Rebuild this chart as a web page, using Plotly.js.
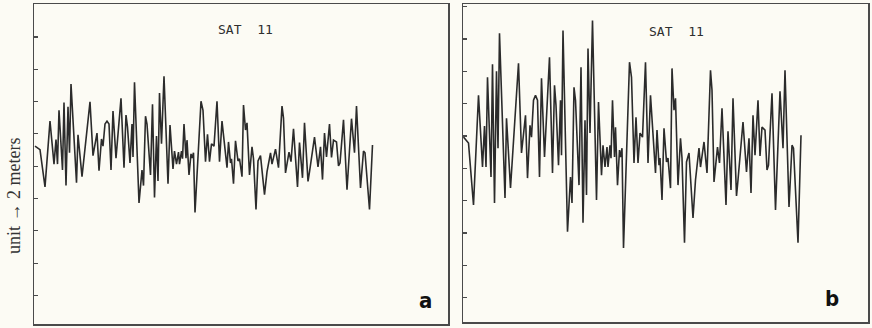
<!DOCTYPE html>
<html>
<head>
<meta charset="utf-8">
<script src="https://cdn.plot.ly/plotly-3.0.1.min.js"></script>
<style>
  html, body { margin: 0; padding: 0; background: #fcfbf4; }
  #chart { width: 872px; height: 328px; }
</style>
</head>
<body>
<div id="chart"></div>
<script>
// SAT 11 residual series: epoch (sample time) and residual in centimetres
const epoch = [0, 5, 10, 15, 19, 21, 22.5, 24, 27.5, 29, 31, 33, 34.5, 36, 41.5, 43, 47, 51, 55, 58,
  62, 64, 66.5, 68, 70, 72, 74, 76, 78, 81, 83, 86, 89, 91, 92.5, 95, 97, 98, 99.5, 104,
  107, 108.5, 110.5, 112, 115.5, 117.5, 119.5, 121.5, 123, 124.5, 126.5, 129, 133, 135, 138, 139.5, 141.5, 143.5, 144.5, 146.5,
  147.5, 149, 151, 152, 154, 156, 157, 158.5, 160, 166, 168, 170.5, 172.5, 174.5, 176.5, 179, 182, 184.5, 187, 192,
  193.5, 195.5, 196.5, 198.5, 200.5, 203, 204.5, 207, 208.5, 210.5, 212, 214.5, 217, 218.5, 221, 223, 225.5, 229.5, 232, 235.5,
  237, 240.5, 243.5, 247, 248.5, 250.5, 254, 256, 258.5, 262.5, 264.5, 267.5, 269.5, 273, 274.5, 279.5, 283, 285.5, 287.5, 289.5,
  291.5, 294.5, 296.5, 298.5, 301.5, 303.5, 305, 308.5, 312, 316.5, 319.5, 321.5, 325.5, 328.5, 330, 334.5, 337.5];

const residualCm = [24, 2, -228, 179, -87, 65, -87, 246, -124, 294, -220, 268, -17, 409, -202, 94, -165, 80, 298, -35,
  105, -128, 68, 24, 161, 179, 161, -124, 242, -50, 98, 320, -109, 216, 142, -80, 161, -43, 420, -327,
  -124, -220, 209, 161, -154, 283, -294, 87, -191, 353, 39, 457, -209, 154, -117, -6, -87, -13, -87, -6,
  -54, 161, -50, 61, -154, -24, -50, -17, -387, 302, 246, -72, 98, -72, 39, 24, 302, -72, 179, -109,
  50, -80, -54, -209, 57, -68, -54, -165, 279, 124, 168, -154, 20, -54, -368, -68, -35, -276, -135, -17,
  -87, 6, -109, 272, 198, -142, -13, -72, 131, -228, 46, -172, 168, -194, -135, 80, -105, 20, -183, 105,
  -43, 161, -46, 61, 50, -98, -80, 187, -246, 194, -17, 272, -235, -6, -17, -368, 31];

const panelTitle = 'SAT  11';
const panelTags = ['a', 'b'];
const yLabel = 'unit \u2192 2 meters';

const ink = '#2b2b2b';
const frame = '#4a4a4a';
const paper = '#fcfbf4';

const lineStyle = { color: ink, width: 1.6 };

const traces = [
  { x: epoch, y: residualCm, xaxis: 'x', yaxis: 'y', mode: 'lines', line: lineStyle, hoverinfo: 'skip' },
  { x: epoch, y: residualCm, xaxis: 'x2', yaxis: 'y2', mode: 'lines', line: lineStyle, hoverinfo: 'skip' }
];

const xBase = {
  showgrid: false, zeroline: false, showticklabels: false, ticks: '',
  showline: true, mirror: true, linecolor: frame, linewidth: 1.5
};
const yBase = {
  showgrid: false, zeroline: false, showticklabels: false,
  ticks: 'inside', ticklen: 4, tickwidth: 1.2, tickcolor: frame,
  showline: true, mirror: true, linecolor: frame, linewidth: 1.5,
  tickmode: 'linear'
};

const tagFont = { family: 'DejaVu Sans Condensed, Liberation Sans, sans-serif', size: 22, weight: 'bold', color: '#111' };
const titleFont = { family: 'DejaVu Sans Mono', size: 13, color: '#2f2f2f' };

const layout = {
  width: 872, height: 328,
  margin: { l: 0, r: 0, t: 0, b: 0 },
  paper_bgcolor: paper, plot_bgcolor: paper,
  showlegend: false,
  xaxis: Object.assign({}, xBase, { domain: [34 / 872, 448 / 872], range: [-1, 413], anchor: 'y' }),
  yaxis: Object.assign({}, yBase, { domain: [4 / 328, 324 / 328], range: [-1077, 904], tick0: 100, dtick: 200, anchor: 'x' }),
  xaxis2: Object.assign({}, xBase, { domain: [463 / 872, 868 / 872], range: [-0.5, 404.5], anchor: 'y2' }),
  yaxis2: Object.assign({}, yBase, { domain: [6 / 328, 324 / 328], range: [-662, 518], tick0: 28, dtick: 120, anchor: 'x2' }),
  annotations: [
    { text: panelTitle, xref: 'paper', yref: 'paper', x: 245 / 872, y: 1 - 30 / 328, xanchor: 'center', yanchor: 'middle',
      showarrow: false, font: titleFont },
    { text: panelTitle, xref: 'paper', yref: 'paper', x: 676 / 872, y: 1 - 32 / 328, xanchor: 'center', yanchor: 'middle',
      showarrow: false, font: titleFont },
    { text: panelTags[0], xref: 'paper', yref: 'paper', x: 425 / 872, y: 1 - 300 / 328, xanchor: 'center', yanchor: 'middle',
      showarrow: false, font: tagFont },
    { text: panelTags[1], xref: 'paper', yref: 'paper', x: 832 / 872, y: 1 - 298 / 328, xanchor: 'center', yanchor: 'middle',
      showarrow: false, font: tagFont },
    { text: yLabel, xref: 'paper', yref: 'paper', x: 14 / 872, y: 1 - 196 / 328, xanchor: 'center', yanchor: 'middle',
      textangle: -90, showarrow: false, font: { family: 'Liberation Serif', size: 18, color: '#333' } }
  ]
};

Plotly.newPlot('chart', traces, layout, { staticPlot: true, displayModeBar: false });
</script>
</body>
</html>
